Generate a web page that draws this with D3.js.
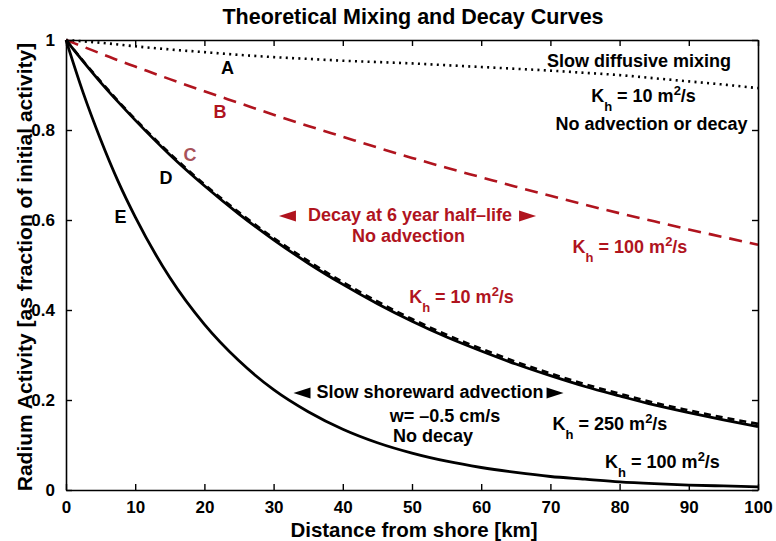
<!DOCTYPE html>
<html>
<head>
<meta charset="utf-8">
<script src="https://cdn.jsdelivr.net/npm/d3@7"></script>
<style>
  html, body { margin: 0; padding: 0; background: #fff; }
  svg text { font-family: "Liberation Sans", Arial, Helvetica, sans-serif; font-weight: bold; }
</style>
</head>
<body>
<svg id="chart" width="776" height="541"></svg>
<script>
// Distance offshore (km) at which each curve is sampled
const distanceKm = [0, 2.5, 5, 7.5, 10, 15, 20, 25, 30, 35, 40, 45, 50, 55, 60, 65, 70, 75, 80, 85, 90, 95, 100];

// A: slow diffusive mixing, Kh = 10 m2/s, no advection or decay
const curveA = [1, 0.997, 0.994, 0.99, 0.986, 0.979, 0.973, 0.967, 0.962, 0.958, 0.954, 0.951, 0.948, 0.944, 0.940, 0.936, 0.932, 0.927, 0.922, 0.915, 0.908, 0.901, 0.893];
// B: decay at 6 year half-life, Kh = 100 m2/s
const curveB = [1, 0.985, 0.970, 0.955, 0.941, 0.913, 0.886, 0.860, 0.834, 0.809, 0.785, 0.761, 0.738, 0.716, 0.695, 0.674, 0.654, 0.634, 0.615, 0.597, 0.579, 0.562, 0.545];
// C: decay at 6 year half-life, Kh = 10 m2/s
const curveC = [1, 0.953, 0.908, 0.865, 0.824, 0.748, 0.679, 0.617, 0.560, 0.509, 0.462, 0.419, 0.380, 0.345, 0.314, 0.285, 0.259, 0.235, 0.214, 0.194, 0.177, 0.161, 0.147];
// D: slow shoreward advection w = -0.5 cm/s, Kh = 250 m2/s
const curveD = [1, 0.952, 0.906, 0.863, 0.822, 0.745, 0.676, 0.613, 0.556, 0.504, 0.457, 0.414, 0.375, 0.340, 0.309, 0.280, 0.254, 0.230, 0.209, 0.189, 0.172, 0.156, 0.141];
// E: slow shoreward advection w = -0.5 cm/s, Kh = 100 m2/s
const curveE = [1, 0.882, 0.779, 0.687, 0.607, 0.472, 0.368, 0.287, 0.223, 0.174, 0.135, 0.105, 0.082, 0.064, 0.050, 0.039, 0.030, 0.024, 0.018, 0.014, 0.011, 0.009, 0.007];

const xTicks = [0, 10, 20, 30, 40, 50, 60, 70, 80, 90, 100];
const yTicks = [0, 0.2, 0.4, 0.6, 0.8, 1];

const RED = "#b0141e";
const svg = d3.select("#chart");

const x = d3.scaleLinear().domain([0, 100]).range([66, 758]);
const y = d3.scaleLinear().domain([0, 1]).range([490, 40]);

// Curves
const line = d3.line()
  .x((d, i) => x(distanceKm[i]))
  .y(d => y(d))
  .curve(d3.curveMonotoneX);

const plot = svg.append("g");
plot.append("path").datum(curveA).attr("d", line)
  .attr("fill", "none").attr("stroke", "#000").attr("stroke-width", 2.6)
  .attr("stroke-dasharray", "2,4.3");
plot.append("path").datum(curveB).attr("d", line)
  .attr("fill", "none").attr("stroke", RED).attr("stroke-width", 2.6)
  .attr("stroke-dasharray", "13,8");
plot.append("path").datum(curveC).attr("d", line)
  .attr("fill", "none").attr("stroke", "#000").attr("stroke-width", 2.6)
  .attr("stroke-dasharray", "7,5");
plot.append("path").datum(curveD).attr("d", line)
  .attr("fill", "none").attr("stroke", "#000").attr("stroke-width", 2.8);
plot.append("path").datum(curveE).attr("d", line)
  .attr("fill", "none").attr("stroke", "#000").attr("stroke-width", 2.8);

// Axes: ticks point inward on all four sides
const tickLen = 6;
const axB = svg.append("g").attr("transform", `translate(0,${y(0)})`)
  .call(d3.axisBottom(x).tickValues(xTicks).tickSizeInner(-tickLen).tickSizeOuter(0).tickPadding(11).tickFormat(d3.format("d")));
const axT = svg.append("g").attr("transform", `translate(0,${y(1)})`)
  .call(d3.axisTop(x).tickValues(xTicks).tickSizeInner(-tickLen).tickSizeOuter(0).tickFormat(""));
const axL = svg.append("g").attr("transform", `translate(${x(0)},0)`)
  .call(d3.axisLeft(y).tickValues(yTicks).tickSizeInner(-tickLen).tickSizeOuter(0).tickPadding(11).tickFormat(d => d3.format("~g")(d)));
const axR = svg.append("g").attr("transform", `translate(${x(100)},0)`)
  .call(d3.axisRight(y).tickValues(yTicks).tickSizeInner(-tickLen).tickSizeOuter(0).tickFormat(""));

[axB, axT, axL, axR].forEach(g => {
  g.select(".domain").attr("stroke", "#000").attr("stroke-width", 1.6);
  g.selectAll(".tick line").attr("stroke", "#000").attr("stroke-width", 1.4);
  g.selectAll(".tick text").attr("fill", "#000").style("font-size", "17px")
    .style("font-family", "'Liberation Sans', Arial, sans-serif").style("font-weight", "bold");
});
axB.selectAll(".tick text").attr("dy", "0.71em");

// Title and axis labels
svg.append("text").attr("x", 413).attr("y", 24).attr("text-anchor", "middle")
  .style("font-size", "21.5px").text("Theoretical Mixing and Decay Curves");
svg.append("text").attr("x", 414).attr("y", 537).attr("text-anchor", "middle")
  .style("font-size", "20.5px").text("Distance from shore [km]");
svg.append("text").attr("transform", "translate(32,267) rotate(-90)").attr("text-anchor", "middle")
  .style("font-size", "21px").text("Radium Activity [as fraction of initial activity]");

// Curve letters
const letters = [
  { t: "A", x: 227.5, y: 74, c: "#000" },
  { t: "B", x: 220, y: 118, c: RED },
  { t: "C", x: 190, y: 161, c: "#a8525a" },
  { t: "D", x: 166, y: 184, c: "#000" },
  { t: "E", x: 120.5, y: 223, c: "#000" }
];
svg.selectAll(".letter").data(letters).enter().append("text")
  .attr("class", "letter").attr("x", d => d.x).attr("y", d => d.y)
  .attr("text-anchor", "middle").attr("fill", d => d.c)
  .style("font-size", "18px").text(d => d.t);

// Plain annotation lines
function note(txt, cx, by, color) {
  return svg.append("text").attr("x", cx).attr("y", by).attr("text-anchor", "middle")
    .attr("fill", color).style("font-size", "18px").text(txt);
}
// Kh = N m2/s with subscript h and superscript 2
function kh(value, cx, by, color) {
  const t = svg.append("text").attr("x", cx).attr("y", by).attr("text-anchor", "middle")
    .attr("fill", color).style("font-size", "18px");
  t.append("tspan").text("K");
  t.append("tspan").attr("dy", 9).style("font-size", "13px").text("h");
  t.append("tspan").attr("dy", -9).text(" = " + value + " m");
  t.append("tspan").attr("dy", -7).style("font-size", "13px").text("2");
  t.append("tspan").attr("dy", 7).text("/s");
  return t;
}
// Text flanked by triangular arrow heads pointing outward
function arrowed(txt, cx, by, color, gapL, gapR) {
  const t = note(txt, cx, by, color);
  const w = t.node().getComputedTextLength();
  const cy = by - 5, aw = 17, ah = 5.5;
  const l = cx - w / 2 - gapL, r = cx + w / 2 + gapR;
  svg.append("path").attr("fill", color)
    .attr("d", `M${l},${cy - ah}L${l},${cy + ah}L${l - aw},${cy}Z`);
  svg.append("path").attr("fill", color)
    .attr("d", `M${r},${cy - ah}L${r},${cy + ah}L${r + aw},${cy}Z`);
  return t;
}

note("Slow diffusive mixing", 639, 67, "#000");
kh("10", 643.5, 102, "#000");
note("No advection or decay", 651.5, 130, "#000");

arrowed("Decay at 6 year half\u2013life", 410, 221, RED, 12, 7);
note("No advection", 408.5, 242, RED);
kh("100", 630, 253, RED);
kh("10", 461.5, 303, RED);

arrowed("Slow shoreward advection", 430, 398, "#000", 6, 3);
note("w= \u20130.5 cm/s", 445, 422, "#000");
note("No decay", 433, 442, "#000");
kh("250", 610, 430, "#000");
kh("100", 662.5, 468, "#000");
</script>
</body>
</html>
